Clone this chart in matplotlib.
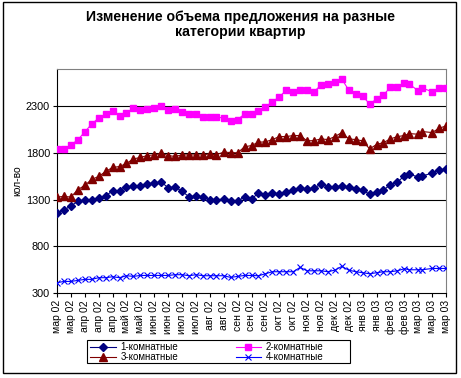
import matplotlib
matplotlib.use("Agg")
import matplotlib.pyplot as plt
import pandas as pd
from matplotlib.patches import Rectangle

plt.rcParams['font.family'] = ['Liberation Sans', 'DejaVu Sans']

title = "Изменение объема предложения на разные\nкатегории квартир"
y_label = "кол-во"

dates = [
    "2002-03-04", "2002-03-11", "2002-03-18", "2002-03-25", "2002-04-01", "2002-04-08",
    "2002-04-15", "2002-04-22", "2002-04-29", "2002-05-06", "2002-05-13", "2002-05-20",
    "2002-05-27", "2002-06-03", "2002-06-10", "2002-06-17", "2002-06-24", "2002-07-01",
    "2002-07-08", "2002-07-15", "2002-07-22", "2002-07-29", "2002-08-05", "2002-08-11",
    "2002-08-19", "2002-08-26", "2002-09-02", "2002-09-09", "2002-09-16", "2002-09-23",
    "2002-09-30", "2002-10-07", "2002-10-14", "2002-10-21", "2002-10-28", "2002-11-04",
    "2002-11-11", "2002-11-18", "2002-11-25", "2002-12-02", "2002-12-09", "2002-12-16",
    "2002-12-23", "2002-12-30", "2003-01-06", "2003-01-13", "2003-01-20", "2003-01-27",
    "2003-02-03", "2003-02-10", "2003-02-17", "2003-02-22", "2003-03-03", "2003-03-07",
    "2003-03-17", "2003-03-24", "2003-03-31",
]

rooms1 = [1161, 1190, 1232, 1282, 1296, 1300, 1318, 1339, 1396, 1396, 1435, 1446, 1446,
          1471, 1478, 1489, 1428, 1435, 1389, 1332, 1339, 1328, 1300, 1296, 1307, 1282,
          1282, 1332, 1307,
          1371, 1350, 1375, 1360, 1382, 1403, 1424, 1414, 1424, 1467, 1439, 1439, 1446,
          1435, 1417, 1403, 1357, 1382, 1403, 1460, 1489, 1553, 1574, 1542, 1553, 1585,
          1617, 1627]
rooms2 = [1844, 1844, 1887, 1941, 2026, 2111, 2175, 2218, 2254, 2197, 2229, 2282, 2264,
          2275, 2286, 2304, 2264, 2272, 2240, 2218, 2218, 2186, 2186, 2186, 2175, 2143,
          2158, 2218, 2218,
          2254, 2293, 2350, 2400, 2474, 2457, 2474, 2474, 2457, 2528, 2542, 2556, 2592,
          2474, 2432, 2410, 2325, 2378, 2421, 2506, 2506, 2553, 2538, 2467, 2496, 2457,
          2499, 2499]
rooms3 = [1328, 1335, 1328, 1407, 1453, 1517, 1549, 1602, 1645, 1655, 1688, 1737, 1752,
          1773, 1780, 1795, 1773, 1763, 1780, 1780, 1780, 1780, 1791, 1780, 1809, 1805,
          1802, 1866, 1880,
          1916, 1919, 1944, 1976, 1976, 1987, 1987, 1930, 1933, 1951, 1944, 1976, 2019,
          1951, 1944, 1930, 1844, 1891, 1912, 1951, 1976, 1987, 2008, 2001, 2030, 2019,
          2065, 2090]
rooms4 = [410, 424, 424, 435, 446, 446, 464, 464, 474, 464, 485, 478, 488, 488, 488, 488,
          488, 496, 496, 485, 496, 485, 485, 485, 485, 467, 478, 488, 488,
          485, 506, 528, 528, 528, 528, 574, 538, 538, 538, 528, 545, 585, 545, 528, 517,
          506, 517, 528, 528, 538, 560, 549, 549, 549, 563, 563, 563]

series_names = ["1-комнатные", "2-комнатные", "3-комнатные", "4-комнатные"]

tick_start = "2002-03-04"
tick_labels = ["мар 02", "мар 02", "апр 02", "апр 02", "апр 02", "май 02", "май 02",
               "июн 02", "июн 02", "июл 02", "июл 02", "авг 02", "авг 02", "сен 02",
               "сен 02", "сен 02", "окт 02", "окт 02", "ноя 02", "ноя 02", "дек 02",
               "дек 02", "янв 03", "янв 03", "фев 03", "фев 03", "мар 03", "мар 03",
               "мар 03"]
y_ticks = [300, 800, 1300, 1800, 2300]

x = pd.to_datetime(dates)
tick_pos = pd.date_range(tick_start, periods=len(tick_labels), freq="14D")

W, H = 461, 378
fig = plt.figure(figsize=(W / 100, H / 100), dpi=100)
ax = fig.add_axes([57 / W, 85 / H, (446 - 57) / W, (293 - 69) / H])

# outer chart border
fig.patches.append(Rectangle((3 / W, 5 / H), 453 / W, 371 / H, transform=fig.transFigure,
                             fill=False, edgecolor="black", linewidth=1.0))
# legend frame
fig.patches.append(Rectangle((87 / W, (H - 363) / H), 263 / W, 23 / H, transform=fig.transFigure,
                             fill=False, edgecolor="black", linewidth=0.8))

for yv in y_ticks[1:]:
    ax.axhline(yv, color="black", linewidth=0.8, zorder=1)

l1, = ax.plot(x, rooms1, color="#000080", marker="D", markersize=4.2, linewidth=0.8,
              label=series_names[0], zorder=3)
l2, = ax.plot(x, rooms2, color="#FF00FF", marker="s", markersize=4.5, linewidth=0.8,
              label=series_names[1], zorder=3)
l3, = ax.plot(x, rooms3, color="#800000", marker="^", markersize=5.2, linewidth=0.8,
              label=series_names[2], zorder=3)
l4, = ax.plot(x, rooms4, color="#0000FF", marker="x", markersize=3.8, markeredgewidth=0.8,
              linewidth=0.8, label=series_names[3], zorder=3)

ax.set_xlim(x[0], x[-1])
ax.set_ylim(300, 2700)
ax.set_yticks(y_ticks)
ax.set_yticklabels([str(v) for v in y_ticks], fontsize=7.8)
ax.set_xticks(tick_pos)
ax.set_xticklabels(tick_labels, rotation=90, fontsize=7.5)
ax.tick_params(axis="both", direction="out", length=3, width=0.8, color="black", pad=2)

for side in ("left", "bottom"):
    ax.spines[side].set_color("black")
    ax.spines[side].set_linewidth(0.8)
for side in ("top", "right"):
    ax.spines[side].set_color("#808080")
    ax.spines[side].set_linewidth(0.8)

fig.text(240 / W, 1 - 10 / H, title, ha="center", va="top", fontsize=10.2,
         fontweight="bold", linespacing=1.05)
fig.text(17 / W, 1 - 181 / H, y_label, rotation=90, ha="center", va="center", fontsize=7.5)

leg = fig.legend([l1, l3, l2, l4], [series_names[0], series_names[2], series_names[1], series_names[3]],
                 ncol=2, loc="upper left", bbox_to_anchor=(88 / W, 1 - 340 / H),
                 fontsize=7.0, frameon=False,
                 handlelength=2.6, handletextpad=0.5, columnspacing=5.9,
                 labelspacing=0.0, borderpad=0.25, borderaxespad=0.0)

fig.savefig("out.png", dpi=100)
